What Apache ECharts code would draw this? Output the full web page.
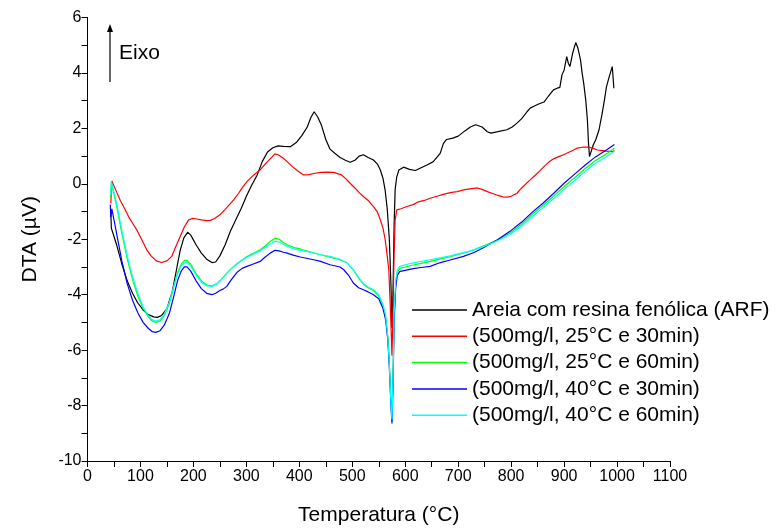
<!DOCTYPE html>
<html>
<head>
<meta charset="utf-8">
<script src="https://cdn.jsdelivr.net/npm/echarts@6/dist/echarts.min.js"></script>
<style>
html,body{margin:0;padding:0;background:#fff;}
#chart{width:779px;height:531px;}
</style>
</head>
<body>
<div id="chart"></div>
<script>
// Series names
const seriesNames = [
  'Areia com resina fenólica (ARF)',
  '(500mg/l, 25°C e 30min)',
  '(500mg/l, 25°C e 60min)',
  '(500mg/l, 40°C e 30min)',
  '(500mg/l, 40°C e 60min)'
];
const seriesColors = ['#000000', '#ff0000', '#00ff00', '#0000ff', '#00ffff'];

// [Temperature °C, DTA µV]
const arfData = [[44,-0.95],[45,-1.6],[47,-1.55],[55,-2.2],[65,-2.9],[75,-3.5],[85,-3.95],[95,-4.3],[105,-4.55],[115,-4.72],[125,-4.8],[132,-4.82],[140,-4.75],[150,-4.5],[160,-3.9],[168,-3.1],[175,-2.4],[182,-1.95],[189,-1.75],[195,-1.85],[205,-2.2],[215,-2.5],[225,-2.72],[235,-2.84],[242,-2.82],[250,-2.6],[260,-2.2],[270,-1.7],[280,-1.3],[290,-0.9],[300,-0.45],[310,-0.05],[320,0.3],[330,0.8],[340,1.15],[350,1.3],[360,1.37],[370,1.35],[383,1.34],[395,1.5],[405,1.75],[415,2.05],[422,2.4],[428,2.6],[435,2.4],[442,2.1],[450,1.6],[458,1.25],[467,1.1],[477,0.95],[487,0.85],[496,0.78],[505,0.85],[513,1.0],[521,1.05],[530,0.95],[540,0.86],[548,0.7],[553,0.5],[558,0.2],[562,-0.22],[566,-0.9],[570,-2.0],[573,-3.6],[575,-5.2],[577,-3.8],[579,-1.5],[581,-0.2],[584,0.25],[588,0.5],[597,0.6],[608,0.52],[619,0.48],[630,0.58],[641,0.68],[653,0.8],[666,1.1],[672,1.45],[678,1.6],[690,1.65],[700,1.72],[712,1.9],[723,2.05],[733,2.13],[745,2.05],[755,1.88],[762,1.83],[775,1.88],[792,1.95],[802,2.05],[811,2.19],[820,2.35],[830,2.6],[836,2.73],[843,2.8],[852,2.88],[862,2.95],[870,3.15],[880,3.39],[887,3.45],[892,3.48],[896,3.93],[900,4.1],[905,4.59],[908,4.35],[911,4.23],[916,4.7],[922,5.1],[926,4.9],[931,4.47],[934,4.0],[937,3.63],[941,3.0],[944,2.31],[946,1.5],[948,0.98],[951,0.92],[955,1.4],[960,1.6],[966,1.95],[972,2.55],[976,3.0],[980,3.5],[985,3.85],[991,4.23],[994,3.45]];

const red2530Data = [[44,-0.7],[46,0.1],[48,0.05],[55,-0.3],[62,-0.6],[68,-0.82],[78,-1.2],[86,-1.45],[93,-1.66],[102,-2.0],[112,-2.38],[120,-2.6],[130,-2.78],[140,-2.84],[150,-2.78],[159,-2.62],[167,-2.25],[175,-1.9],[183,-1.55],[191,-1.3],[198,-1.25],[206,-1.27],[215,-1.3],[225,-1.33],[232,-1.32],[240,-1.25],[250,-1.12],[260,-0.92],[268,-0.75],[276,-0.58],[285,-0.35],[293,-0.12],[301,0.08],[310,0.25],[318,0.38],[326,0.5],[335,0.7],[345,0.9],[354,1.08],[360,1.05],[368,0.95],[377,0.8],[387,0.62],[398,0.45],[408,0.32],[418,0.33],[430,0.38],[440,0.41],[452,0.42],[465,0.41],[472,0.37],[480,0.32],[488,0.18],[496,0.02],[505,-0.15],[513,-0.32],[521,-0.46],[530,-0.6],[540,-0.82],[547,-1.0],[553,-1.3],[558,-1.6],[562,-2.0],[566,-2.6],[569,-3.1],[572,-4.5],[575,-6.2],[577,-4.5],[579,-2.5],[581,-1.3],[584,-0.94],[592,-0.9],[603,-0.82],[615,-0.75],[625,-0.65],[636,-0.6],[647,-0.52],[660,-0.45],[672,-0.38],[685,-0.32],[698,-0.28],[710,-0.22],[722,-0.18],[736,-0.15],[745,-0.2],[755,-0.28],[765,-0.35],[775,-0.42],[785,-0.47],[792,-0.48],[800,-0.45],[811,-0.34],[820,-0.15],[828,0.0],[836,0.14],[845,0.3],[853,0.45],[862,0.62],[872,0.8],[880,0.9],[890,0.98],[899,1.05],[910,1.15],[918,1.22],[925,1.29],[935,1.32],[947,1.32],[955,1.28],[963,1.22],[972,1.2],[980,1.18],[991,1.16],[995,1.2]];

const green2560Data = [[44,-0.5],[45,0.05],[47,0.0],[55,-0.8],[65,-1.8],[75,-2.7],[85,-3.45],[95,-4.05],[105,-4.5],[115,-4.8],[122,-4.95],[129,-5.0],[137,-4.95],[145,-4.75],[155,-4.3],[163,-3.7],[170,-3.2],[177,-2.9],[183,-2.77],[188,-2.76],[195,-2.9],[205,-3.25],[215,-3.5],[225,-3.65],[235,-3.68],[245,-3.6],[255,-3.4],[263,-3.22],[272,-3.05],[282,-2.88],[292,-2.75],[301,-2.62],[312,-2.52],[326,-2.38],[335,-2.25],[345,-2.08],[354,-1.96],[362,-2.0],[370,-2.12],[377,-2.2],[390,-2.3],[402,-2.35],[420,-2.45],[440,-2.56],[458,-2.65],[477,-2.74],[490,-2.85],[502,-3.1],[512,-3.4],[521,-3.62],[530,-3.75],[540,-3.85],[550,-4.05],[558,-4.4],[563,-4.8],[567,-5.5],[570,-6.5],[573,-7.8],[575,-8.55],[577,-7.0],[579,-4.8],[582,-3.6],[585,-3.2],[590,-3.05],[600,-3.0],[615,-2.93],[630,-2.87],[647,-2.8],[665,-2.72],[685,-2.63],[700,-2.55],[720,-2.45],[740,-2.3],[760,-2.15],[780,-1.98],[800,-1.75],[820,-1.45],[840,-1.1],[860,-0.78],[880,-0.45],[900,-0.1],[920,0.22],[940,0.55],[960,0.85],[980,1.08],[995,1.28]];

const blue4030Data = [[43,-0.75],[44,-1.2],[46,-0.9],[55,-1.8],[65,-2.8],[75,-3.6],[85,-4.2],[95,-4.65],[105,-5.0],[115,-5.22],[122,-5.33],[129,-5.36],[137,-5.3],[145,-5.1],[155,-4.65],[163,-4.05],[170,-3.5],[177,-3.15],[183,-3.0],[188,-3.0],[195,-3.15],[205,-3.5],[215,-3.78],[225,-3.95],[235,-4.0],[242,-3.95],[250,-3.85],[256,-3.8],[263,-3.7],[272,-3.45],[282,-3.2],[292,-3.05],[301,-2.98],[312,-2.9],[326,-2.8],[335,-2.65],[345,-2.5],[354,-2.4],[362,-2.42],[370,-2.47],[377,-2.5],[390,-2.58],[402,-2.64],[427,-2.74],[440,-2.8],[458,-2.92],[477,-3.0],[484,-3.1],[493,-3.3],[502,-3.58],[512,-3.75],[521,-3.82],[530,-3.9],[540,-4.0],[550,-4.15],[558,-4.5],[563,-4.9],[567,-5.6],[570,-6.6],[573,-8.0],[575,-8.65],[577,-7.2],[579,-5.0],[582,-3.75],[585,-3.3],[590,-3.16],[600,-3.12],[615,-3.06],[630,-3.02],[647,-2.98],[665,-2.85],[685,-2.75],[710,-2.62],[730,-2.48],[750,-2.28],[774,-2.02],[800,-1.68],[820,-1.38],[840,-1.02],[860,-0.7],[880,-0.35],[900,0.02],[920,0.35],[940,0.68],[960,0.98],[980,1.22],[995,1.42]];

const cyan4060Data = [[44,-0.4],[45,0.08],[47,0.02],[55,-0.7],[65,-1.7],[75,-2.6],[85,-3.35],[95,-3.95],[105,-4.45],[115,-4.75],[122,-4.9],[129,-4.95],[137,-4.9],[145,-4.7],[155,-4.25],[163,-3.7],[170,-3.25],[177,-2.95],[183,-2.85],[188,-2.84],[195,-2.98],[205,-3.3],[215,-3.55],[225,-3.68],[235,-3.7],[245,-3.6],[255,-3.4],[263,-3.22],[272,-3.05],[282,-2.9],[292,-2.75],[301,-2.65],[312,-2.55],[326,-2.42],[335,-2.3],[345,-2.17],[354,-2.08],[362,-2.1],[370,-2.18],[377,-2.25],[390,-2.35],[402,-2.4],[420,-2.47],[440,-2.56],[458,-2.62],[477,-2.72],[490,-2.85],[502,-3.1],[512,-3.38],[521,-3.6],[530,-3.72],[540,-3.82],[550,-4.0],[558,-4.35],[563,-4.75],[567,-5.5],[570,-6.5],[573,-7.9],[575,-8.5],[577,-7.0],[579,-4.7],[582,-3.5],[585,-3.1],[590,-2.98],[600,-2.92],[615,-2.85],[630,-2.8],[647,-2.74],[665,-2.67],[685,-2.6],[700,-2.53],[720,-2.44],[740,-2.32],[760,-2.17],[780,-2.0],[800,-1.8],[820,-1.52],[840,-1.18],[860,-0.86],[880,-0.54],[900,-0.2],[920,0.12],[940,0.45],[960,0.75],[980,0.98],[995,1.18]];

const allData = [arfData, red2530Data, green2560Data, blue4030Data, cyan4060Data];

// Axis settings
const xMin = 0, xMax = 1100, xStep = 100;
const yMin = -10, yMax = 6, yStep = 2;

const FONT = "'Liberation Sans', Arial, sans-serif";

const chart = echarts.init(document.getElementById('chart'), null, {renderer: 'canvas'});

const series = seriesNames.map((name, i) => ({
  name: name,
  type: 'line',
  data: allData[i],
  showSymbol: false,
  symbol: 'none',
  smooth: false,
  lineStyle: {color: seriesColors[i], width: 1.2},
  itemStyle: {color: seriesColors[i]},
  z: 2 + i
}));

const option = {
  animation: false,
  backgroundColor: '#ffffff',
  textStyle: {fontFamily: FONT},
  grid: {left: 87.5, right: 109, top: 17.5, bottom: 69.5, containLabel: false},
  legend: {
    data: seriesNames,
    orient: 'vertical',
    left: 412,
    top: 299,
    itemWidth: 55,
    itemHeight: 1.5,
    itemGap: 4.3,
    icon: 'rect',
    textStyle: {fontFamily: FONT, fontSize: 21, color: '#000', lineHeight: 22},
    padding: 0
  },
  xAxis: {
    type: 'value',
    min: xMin, max: xMax, interval: xStep,
    name: 'Temperatura (°C)',
    nameLocation: 'middle',
    nameGap: 44,
    nameTextStyle: {fontFamily: FONT, fontSize: 21, color: '#000'},
    axisLine: {show: true, onZero: false, lineStyle: {color: '#000', width: 1}},
    axisTick: {show: true, inside: false, length: 6, lineStyle: {color: '#000', width: 1}},
    minorTick: {show: true, splitNumber: 2, length: 6, lineStyle: {color: '#000', width: 1}},
    axisLabel: {fontFamily: FONT, fontSize: 16, color: '#000', margin: 8, formatter: v => String(v)},
    splitLine: {show: false}
  },
  yAxis: {
    type: 'value',
    min: yMin, max: yMax, interval: yStep,
    name: 'DTA (µV)',
    nameLocation: 'middle',
    nameGap: 47,
    nameRotate: 90,
    nameTextStyle: {fontFamily: FONT, fontSize: 21, color: '#000'},
    axisLine: {show: true, onZero: false, lineStyle: {color: '#000', width: 1}},
    axisTick: {show: true, inside: false, length: 6, lineStyle: {color: '#000', width: 1}},
    minorTick: {show: true, splitNumber: 2, length: 6, lineStyle: {color: '#000', width: 1}},
    axisLabel: {fontFamily: FONT, fontSize: 16, color: '#000', margin: 6, formatter: v => String(v)},
    splitLine: {show: false}
  },
  graphic: [
    {type: 'line', shape: {x1: 110, y1: 82, x2: 110, y2: 30}, style: {stroke: '#000', lineWidth: 1.2}},
    {type: 'polygon', shape: {points: [[110, 24], [107, 32], [113, 32]]}, style: {fill: '#000'}},
    {type: 'text', left: 119, top: 43, style: {text: 'Eixo', font: '21px ' + FONT, fill: '#000'}}
  ],
  series: series
};

chart.setOption(option);
</script>
</body>
</html>
